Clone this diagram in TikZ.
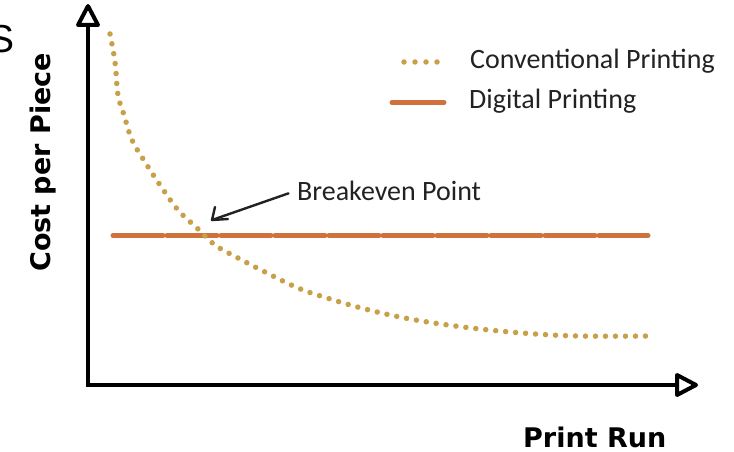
\documentclass[tikz,border=0pt]{standalone}
\usepackage{fontspec}
\setmainfont{DejaVu Sans}
\newfontfamily\handfont{Carlito}
\newfontfamily\boldsans{DejaVu Sans}
\newfontfamily\plainsans{Liberation Sans}
\definecolor{tan}{HTML}{C9A04A}
\definecolor{rust}{HTML}{D0703A}
\definecolor{ink}{HTML}{222222}
\tikzset{
  axisline/.style={line width=4pt, black},
  arrowhead/.style={line width=4pt, black, line join=round, fill=white},
  axislabel/.style={font=\boldsans\bfseries\fontsize{27}{27}\selectfont, inner sep=0pt},
  handtext/.style={font=\handfont\fontsize{28}{28}\selectfont, text=ink, inner sep=0pt},
  conv/.style={tan, line width=5.5pt, line cap=round, dash pattern=on 0pt off 10pt},
  digi/.style={rust, line width=5pt, line cap=round, dash pattern=on 50pt off 4pt},
  pointer/.style={ink, line width=2.4pt, line cap=round},
  barb/.style={ink, line width=2.4pt, line cap=round, line join=round}
}
\begin{document}
\begin{tikzpicture}[x=1pt, y=-1pt]
\useasboundingbox (0,0) rectangle (734,452);
% stray letter
\node[font=\plainsans\fontsize{39}{39}\selectfont, inner sep=0pt, anchor=base east] (s) at (15,53) {S};
% axes
\coordinate (O) at (88,385);
\coordinate (ytip) at (88,6);
\coordinate (ybase) at (88,25);
\coordinate (xtip) at (696,385);
\coordinate (xbase) at (677,385);
\draw[axisline] ([yshift=2pt]O) -- (ybase);
\draw[axisline] ([xshift=-2pt]O) -- (xbase);
\draw[arrowhead] (ytip) -- ([xshift=-10pt]ybase) -- ([xshift=10pt]ybase) -- cycle;
\draw[arrowhead] (xtip) -- ([yshift=-10pt]xbase) -- ([yshift=10pt]xbase) -- cycle;
\node[axislabel, rotate=90, anchor=base west] (ylab) at (50,272) {Cost per Piece};
\node[axislabel, anchor=base west] (xlab) at (523,447) {Print Run};
% digital printing line
\coordinate (d1) at (113,235.5);
\coordinate (d2) at (648,235.5);
\draw[digi] (d1) -- (d2);
% conventional curve
\draw[conv] plot[smooth, tension=0.6] coordinates {
 (110,34) (115,62) (118,95) (124,115) (132,140) (145,162) (160,185) (178,210)
 (197,228) (215,245) (238,258) (265,272) (298,288) (327,298) (365,309)
 (410,319) (463,327) (522,333) (578,336) (648,336)};
% legend
\coordinate (lc1) at (404,62);
\coordinate (lc2) at (448,62);
\draw[conv, dash pattern=on 0pt off 11pt] (lc1) -- (lc2);
\node[handtext, anchor=base west] (lconv) at (470,69) {Conventional Printing};
\coordinate (ld1) at (392,102.5);
\coordinate (ld2) at (444,102.5);
\draw[rust, line width=5pt, line cap=round] (ld1) -- (ld2);
\node[handtext, anchor=base west] (ldig) at (469,108) {Digital Printing};
% breakeven
\node[handtext, anchor=base west] (brk) at (297,200) {Breakeven Point};
\coordinate (bp) at (212,220);
\draw[pointer, shorten <=9pt] (brk.west) -- (bp);
\draw[barb] ([xshift=3pt,yshift=13pt]bp) -- (bp) -- ([xshift=16pt,yshift=1pt]bp);
\end{tikzpicture}
\end{document}
